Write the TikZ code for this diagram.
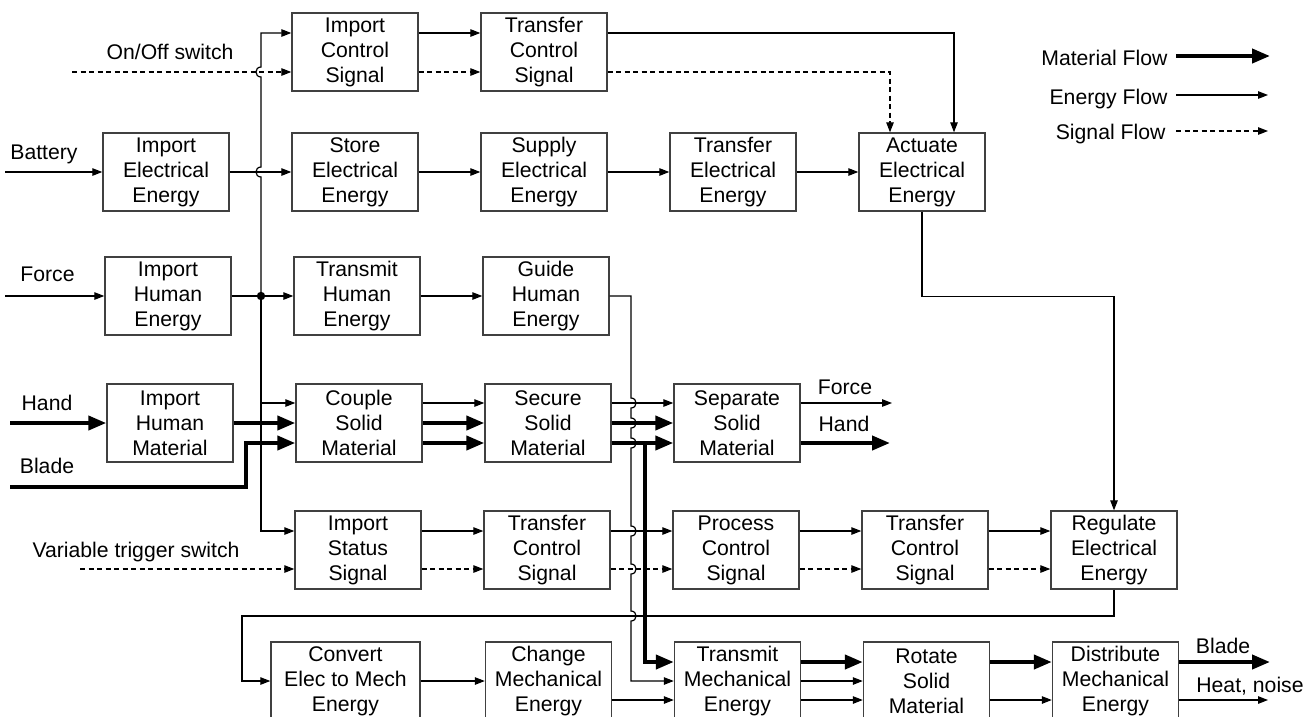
\documentclass[tikz,border=0pt]{standalone}
\usepackage{fontspec}
\setmainfont{Liberation Sans}
\usetikzlibrary{arrows.meta}
\usetikzlibrary{positioning}

% hop of a vertical line over a horizontal one (going down, bulge right / going up, bulge left)
\newcommand{\hopdown}[2]{-- (#1,#2-5) .. controls (#1+6.7,#2-5) and (#1+6.7,#2+5) .. (#1,#2+5)}
\newcommand{\hopup}[2]{-- (#1,#2+5) .. controls (#1-6.7,#2+5) and (#1-6.7,#2-5) .. (#1,#2-5)}

\begin{document}
\begin{tikzpicture}[x=1pt,y=-1pt,node distance=189pt,line width=1.2pt,
                    func node/.style={rectangle,draw=black!75,line width=1.4pt,minimum width=126pt,
                                      minimum height=78pt,inner sep=2pt,align=center,
                                      font=\fontsize{21.2}{25}\selectfont},
                    label node/.style={inner sep=0pt,anchor=base,font=\fontsize{21.2}{25}\selectfont},
                    energy/.style={-{Triangle[length=10pt,width=7.5pt]},line width=1.2pt},
                    signal/.style={energy,dash pattern=on 5pt off 3.5pt},
                    material/.style={-{Triangle[length=18pt,width=14pt]},line width=4pt}]

  \useasboundingbox (0,0) rectangle (1313,716);
  \clip (0,0) rectangle (1313,716);

  % row 1
  \node[func node] (ics) at (355,52) {Import\\Control\\Signal};
  \node[func node] (tcs1) [right of=ics] {Transfer\\Control\\Signal};

  % row 2
  \node[func node] (see) at (355,172) {Store\\Electrical\\Energy};
  \node[func node] (iee) [left of=see] {Import\\Electrical\\Energy};
  \node[func node] (sue) [right of=see] {Supply\\Electrical\\Energy};
  \node[func node] (tee) [right of=sue] {Transfer\\Electrical\\Energy};
  \node[func node] (aee) [right of=tee] {Actuate\\Electrical\\Energy};

  % row 3
  \node[func node] (the) at (357,296) {Transmit\\Human\\Energy};
  \node[func node] (ihe) [left of=the] {Import\\Human\\Energy};
  \node[func node] (ghe) [right of=the] {Guide\\Human\\Energy};

  % row 4
  \node[func node] (csm) at (359,423) {Couple\\Solid\\Material};
  \node[func node] (ihm) [left of=csm] {Import\\Human\\Material};
  \node[func node] (ssm) [right of=csm] {Secure\\Solid\\Material};
  \node[func node] (sep) [right of=ssm] {Separate\\Solid\\Material};

  % row 5
  \node[func node] (iss) at (358,550) {Import\\Status\\Signal};
  \node[func node] (tcs2) [right of=iss] {Transfer\\Control\\Signal};
  \node[func node] (pcs) [right of=tcs2] {Process\\Control\\Signal};
  \node[func node] (tcs3) [right of=pcs] {Transfer\\Control\\Signal};
  \node[func node] (ree) [right of=tcs3] {Regulate\\Electrical\\Energy};

  % row 6
  \node[func node,minimum width=149pt] (cem) at (345.5,681) {Convert\\Elec to Mech\\Energy};
  \node[func node] (cme) at (548.5,681) {Change\\Mechanical\\Energy};
  \node[func node] (tme) [right of=cme] {Transmit\\Mechanical\\Energy};
  \node[func node] (rsm) [right of=tme] {Rotate\\Solid\\Material};
  \node[func node] (dme) [right of=rsm] {Distribute\\Mechanical\\Energy};

  % flow labels
  \node[label node] (lonoff) at (170,59) {On/Off switch};
  \node[label node] (lbat) at (44,159) {Battery};
  \node[label node] (lforce) at (47.5,281) {Force};
  \node[label node] (lhand) at (47,410) {Hand};
  \node[label node] (lblade) at (47,473) {Blade};
  \node[label node] (lvar) at (136,557) {Variable trigger switch};
  \node[label node] (lforce2) at (845,394) {Force};
  \node[label node] (lhand2) at (844,431) {Hand};
  \node[label node] (lblade2) at (1223,653) {Blade};
  \node[label node] (lheat) at (1250,692) {Heat, noise};

  % legend
  \node[label node,anchor=base east] (lgmat) at (1168,65) {Material Flow};
  \node[label node,anchor=base east] (lgen) at (1168,104) {Energy Flow};
  \node[label node,anchor=base east] (lgsig) at (1166,139) {Signal Flow};
  \draw[material] ([xshift=8pt,yshift=9pt]lgmat.base east) -- ++(94,0);
  \draw[energy] ([xshift=8pt,yshift=9pt]lgen.base east) -- ++(92,0);
  \draw[signal] ([xshift=10pt,yshift=8pt]lgsig.base east) -- ++(92,0);

  % free ends
  \coordinate (onin) at (72,72);
  \coordinate (batin) at (5,172);
  \coordinate (forcein) at (5,296);
  \coordinate (handin) at (10,423);
  \coordinate (bladein) at (10,487);
  \coordinate (varin) at (80,569);
  \coordinate (forceout) at (892,403);
  \coordinate (handout) at (890,443);
  \coordinate (bladeout) at (1270,662);
  \coordinate (heatout) at (1268,700);
  \coordinate (jn) at (261,296);
  \coordinate (ret) at (242,616);

  % energy flows
  \draw[energy] (batin) -- (iee);
  \draw[energy] (forcein) -- (ihe);
  \path[energy]
    (iee) edge (see)
    (see) edge (sue)
    (sue) edge (tee)
    (tee) edge (aee)
    (ihe) edge (the)
    (the) edge (ghe)
    (cem) edge (cme)
    ([yshift=19pt]ics.east) edge ([yshift=19pt]tcs1.west)
    ([yshift=20pt]csm.east) edge ([yshift=20pt]ssm.west)
    ([yshift=20pt]ssm.east) edge ([yshift=20pt]sep.west)
    ([yshift=19pt]iss.east) edge ([yshift=19pt]tcs2.west)
    ([yshift=19pt]tcs2.east) edge ([yshift=19pt]pcs.west)
    ([yshift=19pt]pcs.east) edge ([yshift=19pt]tcs3.west)
    ([yshift=19pt]tcs3.east) edge ([yshift=19pt]ree.west)
    ([yshift=-19pt]cme.east) edge ([yshift=-19pt]tme.west)
    (tme) edge (rsm)
    ([yshift=-19pt]tme.east) edge ([yshift=-19pt]rsm.west)
    ([yshift=-19pt]rsm.east) edge ([yshift=-19pt]dme.west)
    ([yshift=20pt]sep.east) edge (forceout)
    ([yshift=-19pt]dme.east) edge (heatout);

  \draw[energy] (jn) \hopup{261}{172} \hopup{261}{72} |- ([yshift=19pt]ics.west);
  \draw[energy] (jn) |- ([yshift=20pt]csm.west);
  \draw[energy] (jn) |- ([yshift=19pt]iss.west);
  \fill (jn) circle (4.2pt);

  \draw[energy] ([yshift=19pt]tcs1.east) -| ([xshift=32pt]aee.north);
  \draw[energy] (aee.south) -- ++(0,85) -| (ree.north);
  \draw[energy] (ree.south) |- (ret) |- (cem.west);
  \draw[energy] (ghe.east) -- (631,296) \hopdown{631}{403} \hopdown{631}{423}
    \hopdown{631}{443} \hopdown{631}{531} \hopdown{631}{569}
    \hopdown{631}{616} |- (tme.west);

  % signal flows
  \draw[signal] (onin) -- ([yshift=-20pt]ics.west);
  \draw[signal] (varin) -- ([yshift=-19pt]iss.west);
  \path[signal]
    ([yshift=-20pt]ics.east) edge ([yshift=-20pt]tcs1.west)
    ([yshift=-19pt]iss.east) edge ([yshift=-19pt]tcs2.west)
    ([yshift=-19pt]tcs2.east) edge ([yshift=-19pt]pcs.west)
    ([yshift=-19pt]pcs.east) edge ([yshift=-19pt]tcs3.west)
    ([yshift=-19pt]tcs3.east) edge ([yshift=-19pt]ree.west);
  \draw[signal] ([yshift=-20pt]tcs1.east) -| ([xshift=-32pt]aee.north);

  % material flows
  \draw[material] (handin) -- (ihm);
  \draw[material] (bladein) -- ++(236,0) |- ([yshift=-20pt]csm.west);
  \path[material]
    (ihm) edge (csm)
    (csm) edge (ssm)
    ([yshift=-20pt]csm.east) edge ([yshift=-20pt]ssm.west)
    (ssm) edge (sep)
    ([yshift=-20pt]ssm.east) edge ([yshift=-20pt]sep.west)
    ([yshift=19pt]tme.east) edge ([yshift=19pt]rsm.west)
    ([yshift=19pt]rsm.east) edge ([yshift=19pt]dme.west)
    ([yshift=-20pt]sep.east) edge (handout)
    ([yshift=19pt]dme.east) edge (bladeout);
  \draw[material] ([yshift=-20pt]ssm.east) -- ++(33,0) |- ([yshift=19pt]tme.west);
\end{tikzpicture}
\end{document}
